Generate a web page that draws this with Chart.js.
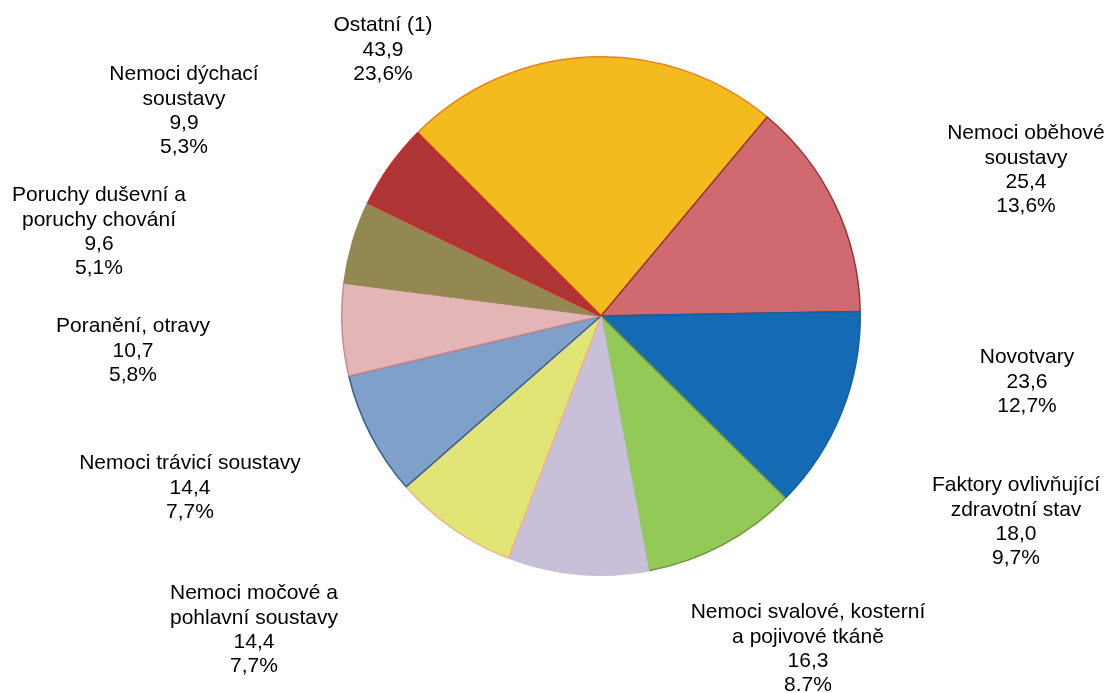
<!DOCTYPE html>
<html lang="cs">
<head>
<meta charset="utf-8">
<title>Pracovní neschopnost podle skupin diagnóz</title>
<script src="https://cdn.jsdelivr.net/npm/chart.js@4.4.1/dist/chart.umd.min.js"></script>
<style>
    html, body { margin: 0; padding: 0; background: #ffffff; }
    #wrap { width: 1110px; height: 693px; }
</style>
</head>
<body>
<div id="wrap"><canvas id="pieChart" width="1110" height="693"></canvas></div>
<script>
// Kategorie (řádky popisku)
const categories = [
    ["Ostatní (1)"],
    ["Nemoci oběhové", "soustavy"],
    ["Novotvary"],
    ["Faktory ovlivňující", "zdravotní stav"],
    ["Nemoci svalové, kosterní", "a pojivové tkáně"],
    ["Nemoci močové a", "pohlavní soustavy"],
    ["Nemoci trávicí soustavy"],
    ["Poranění, otravy"],
    ["Poruchy duševní a", "poruchy chování"],
    ["Nemoci dýchací", "soustavy"]
];
// Hodnoty
const values = [43.9, 25.4, 23.6, 18.0, 16.3, 14.4, 14.4, 10.7, 9.6, 9.9];
// Podíly tak, jak jsou v grafu
const shares = ["23,6%", "13,6%", "12,7%", "9,7%", "8.7%", "7,7%", "7,7%", "5,8%", "5,1%", "5,3%"];

const fillColors = ["#F4BB1E", "#CF6B70", "#156BB3", "#92C957", "#C8BFD9",
                    "#E1E576", "#7FA1C9", "#E4B5B6", "#948852", "#AE3536"];
const borderColors = ["#E8821F", "#9A3434", "#1460A0", "#6F963A", "#C8BFD9",
                      "#F2B08A", "#3A5E91", "#D08A8C", "#948852", "#D0262A"];

// umístění popisků vůči středu koláče (px)
const labelOffsets = [
    [-218, -266], [425, -146], [426, 66], [415, 206], [207, 333],
    [-347, 314], [-411, 172], [-468, 35], [-502, -84], [-417, -205]
];

const fmt = v => v.toFixed(1).replace(".", ",");

const labelPlugin = {
    id: "pieLabels",
    afterDraw(chart) {
        const ctx = chart.ctx;
        const arcs = chart.getDatasetMeta(0).data;
        ctx.save();
        ctx.font = "21px 'Liberation Sans', Arial, sans-serif";
        ctx.fillStyle = "#000000";
        ctx.textAlign = "center";
        ctx.textBaseline = "middle";
        const lh = 24.3;
        arcs.forEach((arc, i) => {
            const lines = categories[i].concat([fmt(values[i]), shares[i]]);
            const cx = arc.x + labelOffsets[i][0];
            const cy = arc.y + labelOffsets[i][1];
            const top = cy - (lines.length - 1) * lh / 2;
            lines.forEach((t, k) => ctx.fillText(t, cx, top + k * lh));
        });
        ctx.restore();
    }
};

new Chart(document.getElementById("pieChart").getContext("2d"), {
    type: "pie",
    data: {
        labels: categories.map(c => c.join(" ")),
        datasets: [{
            data: values,
            backgroundColor: fillColors,
            borderColor: borderColors,
            borderWidth: 1.5,
            hoverOffset: 0
        }]
    },
    options: {
        responsive: false,
        animation: false,
        rotation: -45,
        layout: { padding: { left: 341, right: 249, top: 56, bottom: 117 } },
        plugins: {
            legend: { display: false },
            tooltip: { enabled: false }
        }
    },
    plugins: [labelPlugin]
});
</script>
</body>
</html>
